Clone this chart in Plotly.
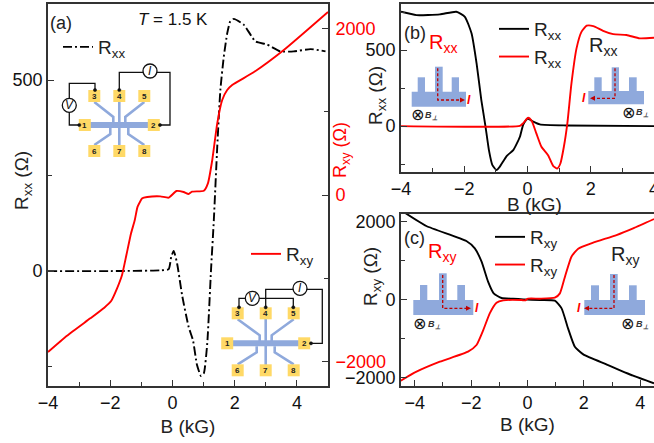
import plotly.graph_objects as go

W, H = 654, 443
FONT = "Liberation Sans"
DARK = "#333333"
RED = "#ff0000"
BLUE = "#8fa9dc"
PAD = "#ffd966"
DRED = "#c00000"

# Panel (a)
a_rxx_b = [-4, -2, -0.39, -0.12, -0.04, 0.04, 0.15, 0.31, 0.52, 0.66, 0.79, 0.92, 1.01, 1.12, 1.24, 1.33, 1.44,
           1.54, 1.65, 1.76, 1.86, 1.97, 2.29, 2.67, 3.04, 3.47, 3.9, 4.44, 4.92]
a_rxx = [0, 0, 2, 5, 37, 53, 20, -63, -146, -181, -246, -275, -267, -188, 3, 133, 325,
         474, 561, 622, 654, 660, 645, 601, 593, 575, 575, 581, 575]
a_rxy_b = [-4, -3.39, -2.64, -2.19, -1.97, -1.78, -1.62, -1.48, -1.33, -1.21, -1.12, -0.97, -0.81, -0.39, -0.12,
           0.13, 0.36, 0.52, 0.63, 1.01, 1.14, 1.28, 1.44, 1.6, 1.76, 1.92, 2.61, 3.58, 5]
a_rxy = [-1887, -1691, -1482, -1354, -1274, -1122, -962, -721, -460, -300, -140, -40, -24, -16, -32,
         48, 36, 12, 40, 52, 140, 421, 862, 1142, 1262, 1322, 1475, 1743, 2200]

# Panel (b)
b_blk_b = [-4, -3.51, -2.77, -2.25, -1.98, -1.77, -1.61, -1.46, -1.33, -1.22, -1.11, -0.98, -0.88, -0.66, -0.45,
           -0.24, -0.14, 0, 0.18, 0.39, 1.23, 4]
b_blk = [752, 730, 735, 752, 719, 610, 412, 171, 0, -158, -257, -289, -268, -197, -158,
         -70, 7, 50, 29, 11, 4, 0]
b_red_b = [-4, -0.24, -0.14, 0.02, 0.13, 0.28, 0.44, 0.65, 0.81, 0.94, 1.04, 1.15, 1.26, 1.39, 1.55, 1.71, 1.87,
           2.08, 2.39, 2.71, 3.13, 3.55, 4]
b_red = [0, 2, 18, 55, 35, -48, -136, -191, -261, -279, -246, -136, 18, 281, 511, 621, 660,
         658, 627, 605, 599, 577, 581]

# Panel (c)
c_blk_b = [-4.41, -3.59, -2.17, -1.87, -1.63, -1.4, -1.2, -0.92, -0.51, -0.15, 0.44, 0.97, 1.21, 1.44, 1.68, 1.98,
           2.8, 3.75, 4.49]
c_blk = [2256, 1889, 1504, 1316, 974, 462, 162, 43, 26, 9, -9, -26, -222, -735, -1205, -1402,
         -1658, -1949, -2145]
c_red_b = [-4.5, -3.94, -3.11, -2.11, -1.81, -1.57, -1.34, -1.1, -0.86, -0.21, -0.09, 0.02, 0.44, 0.97, 1.15, 1.33,
           1.56, 1.8, 2.33, 3.16, 3.75, 4.49]
c_red = [-2077, -1846, -1590, -1333, -1162, -778, -350, -77, -17, -9, -17, 26, 26, 51, 162, 590,
         1103, 1308, 1461, 1658, 1829, 2068]


def X(px):
    return px / W


def Y(py):
    return 1 - py / H


fig = go.Figure()


def line(b, v, color, name, xa, ya, legend, dash=None, width=1.9):
    fig.add_trace(go.Scatter(x=b, y=v, mode="lines", name=name, xaxis=xa, yaxis=ya, legend=legend, showlegend=True,
                             line=dict(color=color, width=width, dash=dash, shape="spline", smoothing=0.5)))


RXX = "R<sub>xx</sub>"
RXY = "R<sub>xy</sub>"
line(a_rxx_b, a_rxx, "#000000", RXX, "x", "y", "legend", dash="9px,3px,2px,3px")
line(a_rxy_b, a_rxy, RED, RXY, "x", "y2", "legend2")
line(b_blk_b, b_blk, "#000000", RXX, "x2", "y3", "legend3")
line(b_red_b, b_red, RED, RXX, "x2", "y3", "legend3")
line(c_blk_b, c_blk, "#000000", RXY, "x3", "y4", "legend4")
line(c_red_b, c_red, RED, RXY, "x3", "y4", "legend4")

tick = dict(ticks="inside", ticklen=6, tickwidth=1.3, tickcolor=DARK, showline=True, linecolor=DARK, linewidth=1.6,
            showgrid=False, zeroline=False, tickfont=dict(family=FONT, size=18, color="#111111"))


def minor(d):
    return dict(ticks="inside", ticklen=4, tickwidth=1.2, tickcolor=DARK, dtick=d, showgrid=False)


ttl = dict(font=dict(family=FONT, size=19, color="#222222"))
layout = dict(
    width=W, height=H, autosize=False, margin=dict(l=0, r=0, t=0, b=0, autoexpand=False),
    paper_bgcolor="white", plot_bgcolor="white", font=dict(family=FONT),
    xaxis=dict(domain=[X(48), X(328)], range=[-4, 5], anchor="y", dtick=2, minor=minor(1), mirror=True,
               title=dict(text="B (kG)", standoff=8, **ttl), **tick),
    yaxis=dict(domain=[Y(385.7), Y(4)], range=[-300, 699], anchor="x", dtick=500, minor=minor(250), **tick),
    yaxis2=dict(domain=[Y(385.7), Y(4)], range=[-2292, 2296], anchor="x", overlaying="y", side="right", dtick=2000,
                minor=minor(1000), ticklabelstandoff=2, **{**tick, "tickfont": dict(family=FONT, size=18, color=RED)}),
    xaxis2=dict(domain=[X(401), 1], range=[-4, 4], anchor="y3", dtick=2, minor=minor(1), mirror=True,
                ticklabeloverflow="allow", **tick),
    yaxis3=dict(domain=[Y(171.7), Y(4)], range=[-300, 803], anchor="x2", dtick=500, minor=minor(250), mirror=True, **tick),
    xaxis3=dict(domain=[X(401), 1], range=[-4.49, 4.49], anchor="y4", dtick=2, minor=minor(1), mirror=True,
                title=dict(text="B (kG)", standoff=6, **ttl), **tick),
    yaxis4=dict(domain=[Y(385.7), Y(214)], range=[-2205, 2197], anchor="x3", dtick=2000, minor=minor(1000), mirror=True, **tick),
)

lg = dict(bgcolor="rgba(0,0,0,0)", xanchor="left", yanchor="top", font=dict(family=FONT, size=19, color="#222222"),
          itemwidth=30, borderwidth=0)
layout["legend"] = dict(x=X(58), y=Y(28), **lg)
layout["legend2"] = dict(x=X(246), y=Y(235), **lg)
layout["legend3"] = dict(x=X(494), y=Y(10), **lg)
layout["legend4"] = dict(x=X(490), y=Y(218), **lg)

shapes = []
notes = []


def seg(pts, color="#111111", width=1.3, dash=None):
    path = "M " + " L ".join(f"{X(x):.5f},{Y(y):.5f}" for x, y in pts)
    shapes.append(dict(type="path", path=path, xref="paper", yref="paper",
                       line=dict(color=color, width=width, dash=dash)))


def box(x0, y0, x1, y1, fill):
    shapes.append(dict(type="rect", xref="paper", yref="paper", x0=X(x0), x1=X(x1), y0=Y(y1), y1=Y(y0),
                       fillcolor=fill, line=dict(width=0)))


def circle(cx, cy, r, fill="white", color="#111111", width=1.3):
    shapes.append(dict(type="circle", xref="paper", yref="paper", x0=X(cx - r), x1=X(cx + r), y0=Y(cy + r), y1=Y(cy - r),
                       fillcolor=fill, line=dict(color=color, width=width)))


def text(x, y, s, size=18, color="#222222", angle=0, font=FONT):
    notes.append(dict(x=X(x), y=Y(y), xref="paper", yref="paper", text=s, showarrow=False, textangle=angle,
                      font=dict(family=font, size=size, color=color), xanchor="center", yanchor="middle"))


def hall(cx, cy, dx, up, down, side, pad=12):
    seg([(cx - side + 5, cy), (cx + side - 5, cy)], BLUE, 6)
    seg([(cx, cy + up + 5), (cx, cy + down - 5)], BLUE, 2.6)
    for sx in (-1, 1):
        seg([(cx + sx * dx, cy + up + 6), (cx + sx * 6, cy - 8), (cx + sx * 6, cy - 2)], BLUE, 2.6)
        seg([(cx + sx * dx, cy + down - 6), (cx + sx * 9, cy + 9), (cx + sx * 9, cy + 3)], BLUE, 2.6)
    pads = {"3": (-dx, up), "4": (0, up), "5": (dx, up), "1": (-side, 0), "2": (side, 0),
            "6": (-dx, down), "7": (0, down), "8": (dx, down)}
    for k, (ox, oy) in pads.items():
        box(cx + ox - pad / 2, cy + oy - pad / 2, cx + ox + pad / 2, cy + oy + pad / 2, PAD)
        text(cx + ox, cy + oy, f"<b>{k}</b>", size=8, color="#222222")


def dot(x, y):
    circle(x, y, 1.6, fill="#111111", width=0.5)


def meter(x, y, s):
    circle(x, y, 7)
    text(x, y, f"<i>{s}</i>", size=12, color="#111111")


# Wiring schematics in panel (a)
hall(119.3, 125, 25, -29, 26, 34.5)
seg([(95, 90), (95, 83.3), (69.3, 83.3), (69.3, 125), (79.3, 125)])
seg([(119.3, 90), (119.3, 72.3), (170, 72.3), (170, 125), (160, 125)])
for p in [(95, 90), (79.3, 125), (119.3, 90), (160, 125)]:
    dot(*p)
meter(69.3, 105.3, "V")
meter(150, 71, "I")

hall(265.7, 343.3, 28, -30, 27, 38.5)
seg([(239, 307.3), (239, 298.3), (293.3, 298.3), (293.3, 307.3)])
seg([(265.7, 307.3), (265.7, 289.3), (322.3, 289.3), (322.3, 343.3), (311, 343.3)])
for p in [(239, 307.3), (293.3, 307.3), (265.7, 307.3), (311, 343.3)]:
    dot(*p)
meter(252.3, 298.3, "V")
meter(300, 288.3, "I")


def comb(x0, x1, ytop, ybot, ttop, mtop, teeth, px, pturn, pend, pstart, ilab, ox, bx, by):
    box(x0, ytop, x1, ybot, BLUE)
    for i, (a, b) in enumerate(teeth):
        box(a, mtop if i == 1 else ttop, b, ytop + 0.5, BLUE)
    seg([(px, pstart), (px, pturn), (pend, pturn)], DRED, 1.3, "3px,2px")
    d = 1 if pend > px else -1
    path = f"M {X(pend + d * 2):.5f},{Y(pturn):.5f} L {X(pend - d * 3):.5f},{Y(pturn - 2.5):.5f} L {X(pend - d * 3):.5f},{Y(pturn + 2.5):.5f} Z"
    shapes.append(dict(type="path", path=path, xref="paper", yref="paper", fillcolor=DRED, line=dict(width=0)))
    text(ilab[0], ilab[1], "<b><i>I</i></b>", size=12, color=RED)
    text(ox, by, "⊗", size=16, color="#111111", font="DejaVu Sans")
    text(bx, by + 1, "<b><i>B<sub>⊥</sub></i></b>", size=9, color="#333333")


# Current-path insets, panel (b)
comb(411.7, 466, 91.7, 106.7, 77.3, 66.7, [(417.7, 425), (435, 442.7), (451.7, 459)], 437.7, 100, 463, 68.3,
     (469, 100), 417.3, 431, 114.7)
comb(588.3, 644, 91, 104.3, 77.3, 67.3, [(594.3, 601.7), (611.7, 619), (629, 636.7)], 615, 98.3, 592, 68.3,
     (583.7, 98.3), 628.3, 642, 112)
# Current-path insets, panel (c)
comb(413.3, 473.3, 300, 315, 285, 273.3, [(420, 427.3), (439, 446.7), (457.3, 465)], 442.7, 308.3, 469, 275,
     (476.7, 307.7), 419.3, 434, 323.7)
comb(584.3, 645, 300, 315, 285.3, 274, [(591, 599), (610, 617.7), (629, 636.7)], 614, 308.3, 586, 275,
     (579.3, 307.7), 627.7, 642, 323.7)

# Panel letters and labels
text(61, 23, "(a)", 18)
text(173, 20, "<i>T</i> = 1.5 K", 17, "#111111")
text(415, 33, "(b)", 18)
text(443, 44, RXX, 20, RED)
text(603, 47, RXX, 20)
text(414, 238, "(c)", 18)
text(442, 252, RXY, 20, RED)
text(625, 255, RXY, 20)

# Axis titles placed where the reference has them, off the centre of their axes
text(23, 181, "R<sub>xx</sub> (Ω)", 19, angle=-90)
text(341, 150, "R<sub>xy</sub> (Ω)", 18, RED, angle=-90)
text(377, 96, "R<sub>xx</sub> (Ω)", 19, angle=-90)
text(372, 277, "R<sub>xy</sub> (Ω)", 19, angle=-90)
text(534, 204, "B (kG)", 19)

layout["shapes"] = shapes
layout["annotations"] = notes
fig.update_layout(**layout)
fig.write_html("out.html", config={"displayModeBar": False}, post_script="document.body.style.margin='0';")
